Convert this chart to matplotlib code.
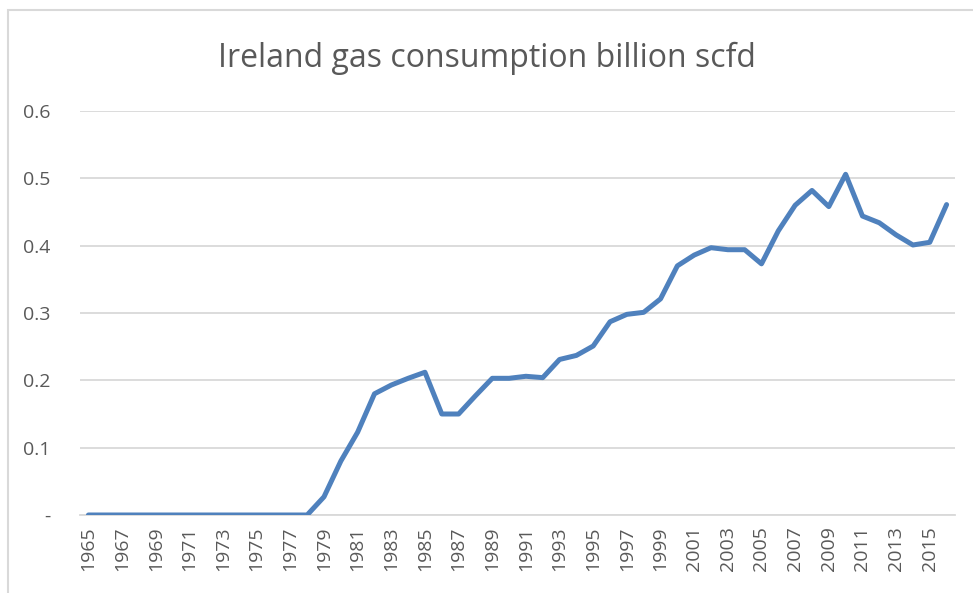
import matplotlib.pyplot as plt
from matplotlib.patches import Rectangle

## Data ##
years = list(range(1965, 2017))
consumption = [0.0] * 14 + [
    0.027, 0.080, 0.123, 0.180, 0.193, 0.203, 0.212, 0.150, 0.150, 0.177,  # 1979-1988
    0.203, 0.203, 0.206, 0.204, 0.231, 0.237, 0.251, 0.287, 0.298, 0.301,  # 1989-1998
    0.321, 0.370, 0.386, 0.397, 0.394, 0.394, 0.373, 0.422, 0.460, 0.482,  # 1999-2008
    0.458, 0.506, 0.444, 0.434, 0.416, 0.401, 0.405, 0.461,                # 2009-2016
]
y_ticks = [0, 0.1, 0.2, 0.3, 0.4, 0.5, 0.6]
y_labels = ["-", "0.1", "0.2", "0.3", "0.4", "0.5", "0.6"]

text_gray = "#595959"
grid_gray = "#d9d9d9"

## Figure ##
fig = plt.figure(figsize=(9.73, 5.93), dpi=100)
plt.rcParams['font.family'] = ['Open Sans', 'DejaVu Sans']

# outer chart border like an Excel chart frame
fig.patches.append(Rectangle((8 / 973, -0.05), 1.1, 1 - 10 / 593 + 0.05,
                             transform=fig.transFigure, fill=False,
                             edgecolor=grid_gray, linewidth=1.5))

ax = fig.add_axes([80 / 973, 1 - 515 / 593, 875 / 973, 404 / 593])

x = list(range(len(years)))
ax.plot(x, consumption, color="#4f81bd", linewidth=3.6, solid_capstyle="round",
        solid_joinstyle="round", zorder=3)

ax.set_xlim(-0.5, len(years) - 0.5)
ax.set_ylim(0, 0.6)
ax.set_yticks(y_ticks)
ax.set_yticklabels(y_labels)
ax.set_xticks(x[::2])
ax.set_xticklabels([str(y) for y in years[::2]], rotation=90)

ax.grid(axis="y", color=grid_gray, linewidth=1.3)
ax.set_axisbelow(True)
for s in ["top", "right", "left"]:
    ax.spines[s].set_visible(False)
ax.spines["bottom"].set_color(grid_gray)
ax.spines["bottom"].set_linewidth(1.3)
ax.tick_params(axis="both", length=0, colors=text_gray, labelsize=14)
ax.tick_params(axis="y", pad=21)
ax.tick_params(axis="x", pad=8)

fig.text(0.5, 1 - 58 / 593, "Ireland gas consumption billion scfd", ha="center",
         va="center", fontsize=23, color=text_gray)

plt.savefig("out.png", dpi=100)
